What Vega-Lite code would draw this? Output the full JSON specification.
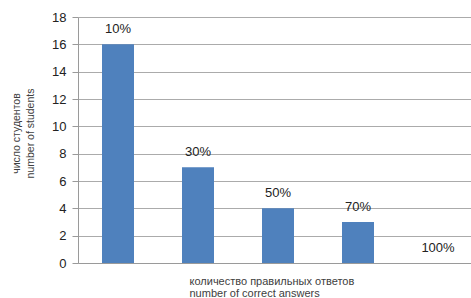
{
  "$schema": "https://vega.github.io/schema/vega-lite/v6.json",
  "width": 393,
  "height": 246,
  "autosize": "none",
  "padding": {"left": 78, "top": 17, "right": 0, "bottom": 35},
  "background": "white",
  "data": {
    "values": [
      {"answers": "10%", "students": 16},
      {"answers": "30%", "students": 7},
      {"answers": "50%", "students": 4},
      {"answers": "70%", "students": 3},
      {"answers": "100%", "students": 0}
    ]
  },
  "config": {
    "view": {"stroke": null},
    "font": "Liberation Sans"
  },
  "encoding": {
    "x": {
      "field": "answers",
      "type": "nominal",
      "sort": null,
      "scale": {"range": [0, 400], "paddingInner": 0.6, "paddingOuter": 0.3},
      "axis": {
        "title": ["количество правильных ответов", "number of correct answers"],
        "titleFont": "Liberation Sans",
        "titleFontSize": 11,
        "titleFontWeight": "normal",
        "titleColor": "#404040",
        "titleAnchor": "start",
        "titleAlign": "left",
        "titleBaseline": "alphabetic",
        "titleX": 111,
        "titleY": 21,
        "titleLineHeight": 12,
        "labels": false,
        "ticks": false,
        "domainColor": "#9a9a9a",
        "grid": false
      }
    },
    "y": {
      "field": "students",
      "type": "quantitative",
      "scale": {"domain": [0, 18], "nice": false},
      "axis": {
        "values": [0, 2, 4, 6, 8, 10, 12, 14, 16, 18],
        "title": ["число студентов", "number of students"],
        "titleFont": "Liberation Sans",
        "titleFontSize": 10.5,
        "titleFontWeight": "normal",
        "titleColor": "#404040",
        "titleAngle": -90,
        "titleAlign": "center",
        "titleBaseline": "top",
        "titleX": -67,
        "titleY": 116,
        "titleLineHeight": 14,
        "labelFont": "Liberation Sans",
        "labelFontSize": 13,
        "labelColor": "#222222",
        "labelPadding": 6,
        "tickSize": 6,
        "tickColor": "#9a9a9a",
        "domainColor": "#9a9a9a",
        "grid": true,
        "gridColor": "#ababab",
        "gridWidth": 1
      }
    }
  },
  "layer": [
    {
      "mark": {"type": "bar", "color": "#4f81bd"}
    },
    {
      "mark": {"type": "text", "baseline": "bottom", "dy": -8, "fontSize": 13, "color": "#222222", "font": "Liberation Sans"},
      "encoding": {"text": {"field": "answers"}}
    }
  ]
}
